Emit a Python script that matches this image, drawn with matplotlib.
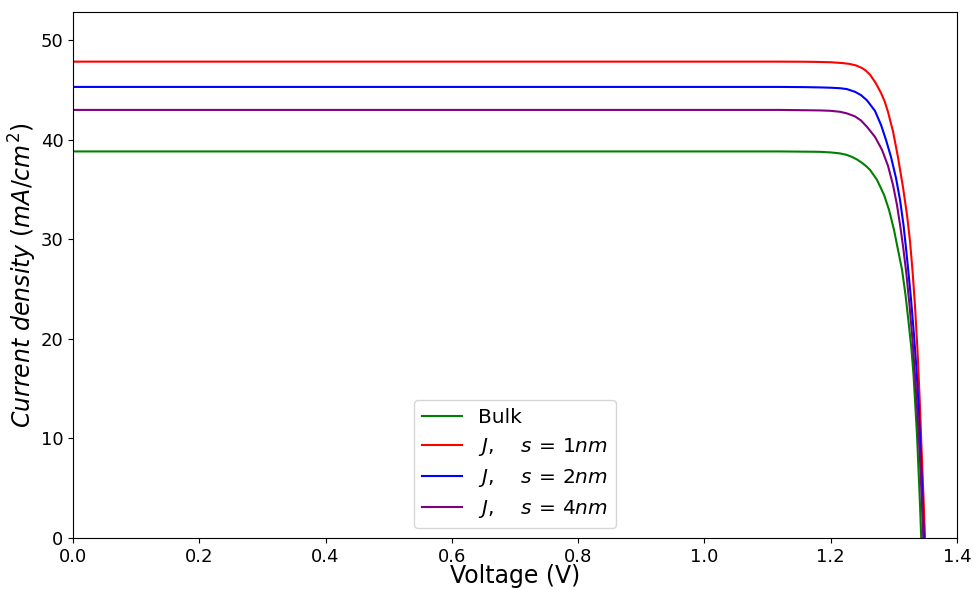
import matplotlib
matplotlib.use("Agg")
import matplotlib.pyplot as plt

# Bulk (green)
v_bulk = [0.0, 1.1197, 1.1831, 1.2000, 1.2148, 1.2250, 1.2338, 1.2420, 1.2496, 1.2560,
          1.2623, 1.2734, 1.2845, 1.2924, 1.3003, 1.3066, 1.3130, 1.3185, 1.3233, 1.3280,
          1.3312, 1.3335, 1.3367, 1.3391, 1.3415, 1.3434]
j_bulk = [38.84, 38.84, 38.80, 38.74, 38.64, 38.50, 38.29, 38.02, 37.69, 37.37,
          36.99, 35.98, 34.48, 32.97, 30.96, 28.96, 26.95, 24.44, 21.73, 18.92,
          16.41, 13.90, 10.38, 6.87, 3.35, 0.0]

# J, s = 1 nm (red)
v_s1 = [0.0, 1.1200, 1.1600, 1.1800, 1.2000, 1.2200, 1.2300, 1.2401, 1.2500, 1.2560,
        1.2623, 1.2710, 1.2797, 1.2855, 1.2908, 1.2950, 1.2987, 1.3066, 1.3145, 1.3209,
        1.3256, 1.3296, 1.3335, 1.3375, 1.3407, 1.3438, 1.3470, 1.3494]
j_s1 = [47.86, 47.86, 47.85, 47.83, 47.80, 47.71, 47.63, 47.48, 47.21, 46.94,
        46.55, 45.75, 44.72, 43.86, 42.81, 41.76, 40.86, 38.26, 35.26, 32.46,
        29.86, 26.86, 23.36, 18.86, 14.36, 9.16, 4.06, 0.0]

# J, s = 2 nm (blue)
v_s2 = [0.0, 1.1200, 1.1600, 1.1830, 1.2000, 1.2150, 1.2258, 1.2385, 1.2480, 1.2575,
        1.2702, 1.2797, 1.2876, 1.2955, 1.3034, 1.3098, 1.3153, 1.3193, 1.3233, 1.3272,
        1.3319, 1.3359, 1.3391, 1.3423, 1.3451, 1.3475]
j_s2 = [45.32, 45.32, 45.30, 45.27, 45.24, 45.19, 45.10, 44.83, 44.50, 43.97,
        42.91, 41.51, 40.00, 38.29, 36.18, 33.98, 31.47, 29.12, 26.62, 24.02,
        20.42, 16.91, 13.39, 8.88, 4.36, 0.0]

# J, s = 4 nm (purple)
v_s4 = [0.0, 1.1197, 1.1831, 1.2000, 1.2150, 1.2258, 1.2385, 1.2480, 1.2575, 1.2702,
        1.2813, 1.2908, 1.2987, 1.3050, 1.3106, 1.3153, 1.3201, 1.3248, 1.3296, 1.3335,
        1.3375, 1.3415, 1.3443, 1.3467]
j_s4 = [43.01, 43.01, 42.96, 42.92, 42.82, 42.66, 42.36, 41.95, 41.31, 40.30,
        39.00, 37.39, 35.48, 33.47, 31.16, 28.96, 26.45, 23.43, 19.92, 16.41,
        12.39, 7.87, 3.86, 0.0]

labels = ["Bulk", r"$J,\quad\,s\,=\,1nm$", r"$J,\quad\,s\,=\,2nm$", r"$J,\quad\,s\,=\,4nm$"]
colors = ["green", "red", "blue", "purple"]

fig = plt.figure(figsize=(9.74, 5.90), dpi=100)
ax = fig.add_axes([0.075, 0.0881, 0.9075, 0.8916])

series = [(v_bulk, j_bulk), (v_s1, j_s1), (v_s2, j_s2), (v_s4, j_s4)]
for (v, j), lab, c in zip(series, labels, colors):
    ax.plot(v, j, color=c, lw=1.5, label=lab)

ax.set_xlim(0, 1.4)
ax.set_ylim(0, 52.85)
ax.tick_params(labelsize=13)
ax.set_xlabel("Voltage (V)", fontsize=17, labelpad=-1)
ax.set_ylabel(r"$Current\ density\ (mA/cm^2)$", fontsize=17, labelpad=1)
ax.legend(loc="lower center", fontsize=14.5, labelspacing=0.45)

fig.savefig("out.png", dpi=100)
